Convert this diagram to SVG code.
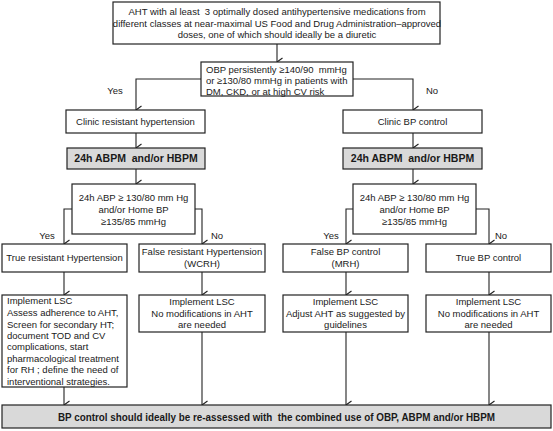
<svg xmlns="http://www.w3.org/2000/svg" width="553" height="431" viewBox="0 0 553 431">
<style>
.box{fill:#fff;stroke:#222;stroke-width:1.2}
.gbox{fill:#d9d9d9;stroke:#222;stroke-width:1.2}
text{font-family:"Liberation Sans",Arial,sans-serif;font-size:9.5px;fill:#1a1a1a;white-space:pre}
.c{text-anchor:middle}
.b{font-weight:bold;font-size:10.5px}
.ln{fill:none;stroke:#222;stroke-width:1.1}
</style>
<defs>
<marker id="ah" viewBox="0 0 10 10" refX="5" refY="9.5" markerWidth="10" markerHeight="10" markerUnits="userSpaceOnUse" orient="auto-start-reverse">
<polyline points="1,4 5,9.5 9,4" fill="none" stroke="#222" stroke-width="1.1"/>
</marker>
</defs>
<rect width="553" height="431" fill="#fff"/>
<g id="connectors">
<path class="ln" d="M277,44 V62" marker-end="url(#ah)"/>
<path class="ln" d="M201,79 H136 V110" marker-end="url(#ah)"/>
<path class="ln" d="M353,79 H413 V110" marker-end="url(#ah)"/>
<path class="ln" d="M136,133 V148" marker-end="url(#ah)"/>
<path class="ln" d="M413,133 V148" marker-end="url(#ah)"/>
<path class="ln" d="M136,169 V184" marker-end="url(#ah)"/>
<path class="ln" d="M413,169 V184" marker-end="url(#ah)"/>
<path class="ln" d="M72,209 H64 V244" marker-end="url(#ah)"/>
<path class="ln" d="M195,209 H202 V244" marker-end="url(#ah)"/>
<path class="ln" d="M353,209 H346 V244" marker-end="url(#ah)"/>
<path class="ln" d="M476,209 H489 V244" marker-end="url(#ah)"/>
<path class="ln" d="M64,272 V295" marker-end="url(#ah)"/>
<path class="ln" d="M202,272 V295" marker-end="url(#ah)"/>
<path class="ln" d="M346,272 V295" marker-end="url(#ah)"/>
<path class="ln" d="M489,272 V295" marker-end="url(#ah)"/>
<path class="ln" d="M64,387 V405" marker-end="url(#ah)"/>
<path class="ln" d="M202,332 V405" marker-end="url(#ah)"/>
<path class="ln" d="M346,332 V405" marker-end="url(#ah)"/>
<path class="ln" d="M489,332 V405" marker-end="url(#ah)"/>
<text x="115" y="94" class="c">Yes</text>
<text x="432" y="94" class="c">No</text>
<text x="47" y="239" class="c">Yes</text>
<text x="217" y="239" class="c">No</text>
<text x="331" y="239" class="c">Yes</text>
<text x="501" y="239" class="c">No</text>
</g>
<g id="n-start">
<rect class="box" x="113" y="2" width="327" height="42"/>
<text x="277" y="15" class="c">AHT with al least  3 optimally dosed antihypertensive medications from</text>
<text x="277" y="27" class="c">different classes at near-maximal US Food and Drug Administration–approved</text>
<text x="277" y="38" class="c">doses, one of which should ideally be a diuretic</text>
</g>
<g id="n-obp">
<rect class="box" x="201" y="62" width="152" height="34"/>
<text x="206" y="73">OBP persistently ≥140/90  mmHg</text>
<text x="206" y="84">or ≥130/80 mmHg in patients with</text>
<text x="206" y="95">DM, CKD, or at high CV risk</text>
</g>
<g id="n-clinic-rh">
<rect class="box" x="66" y="110" width="139" height="23"/>
<text x="135.5" y="125" class="c">Clinic resistant hypertension</text>
</g>
<g id="n-clinic-bp">
<rect class="box" x="343" y="110" width="139" height="23"/>
<text x="412.5" y="125" class="c">Clinic BP control</text>
</g>
<g id="n-abpm-l">
<rect class="gbox" x="67" y="148" width="138" height="21"/>
<text x="136" y="162" class="c b">24h ABPM  and/or HBPM</text>
</g>
<g id="n-abpm-r">
<rect class="gbox" x="343" y="148" width="139" height="21"/>
<text x="412.5" y="162" class="c b">24h ABPM  and/or HBPM</text>
</g>
<g id="n-cond-l">
<rect class="box" x="72" y="184" width="123" height="50"/>
<text x="133.5" y="201" class="c">24h ABP ≥ 130/80 mm Hg</text>
<text x="133.5" y="213" class="c">and/or Home BP</text>
<text x="133.5" y="225" class="c">≥135/85 mmHg</text>
</g>
<g id="n-cond-r">
<rect class="box" x="353" y="184" width="123" height="50"/>
<text x="414.5" y="201" class="c">24h ABP ≥ 130/80 mm Hg</text>
<text x="414.5" y="213" class="c">and/or Home BP</text>
<text x="414.5" y="225" class="c">≥135/85 mmHg</text>
</g>
<g id="n-true-rh">
<rect class="box" x="2" y="244" width="125" height="28"/>
<text x="64.5" y="261" class="c">True resistant Hypertension</text>
</g>
<g id="n-false-rh">
<rect class="box" x="139" y="244" width="126" height="28"/>
<text x="202" y="255" class="c">False resistant Hypertension</text>
<text x="202" y="267" class="c">(WCRH)</text>
</g>
<g id="n-false-bp">
<rect class="box" x="283" y="244" width="125" height="28"/>
<text x="345.5" y="255" class="c">False BP control</text>
<text x="345.5" y="267" class="c">(MRH)</text>
</g>
<g id="n-true-bp">
<rect class="box" x="426" y="244" width="125" height="28"/>
<text x="488.5" y="261" class="c">True BP control</text>
</g>
<g id="n-lsc-1">
<rect class="box" x="2" y="295" width="125" height="92"/>
<text x="7" y="304">Implement LSC</text>
<text x="7" y="316">Assess adherence to AHT,</text>
<text x="7" y="328">Screen for secondary HT;</text>
<text x="7" y="339">document TOD and CV</text>
<text x="7" y="350">complications, start</text>
<text x="7" y="362">pharmacological treatment</text>
<text x="7" y="373">for RH ; define the need of</text>
<text x="7" y="385">interventional strategies.</text>
</g>
<g id="n-lsc-2">
<rect class="box" x="139" y="295" width="126" height="37"/>
<text x="202" y="305" class="c">Implement LSC</text>
<text x="202" y="317" class="c">No modifications in AHT</text>
<text x="202" y="328" class="c">are needed</text>
</g>
<g id="n-lsc-3">
<rect class="box" x="283" y="295" width="125" height="37"/>
<text x="345.5" y="305" class="c">Implement LSC</text>
<text x="345.5" y="317" class="c">Adjust AHT as suggested by</text>
<text x="345.5" y="328" class="c">guidelines</text>
</g>
<g id="n-lsc-4">
<rect class="box" x="426" y="295" width="125" height="37"/>
<text x="488.5" y="305" class="c">Implement LSC</text>
<text x="488.5" y="317" class="c">No modifications in AHT</text>
<text x="488.5" y="328" class="c">are needed</text>
</g>
<g id="n-end">
<rect class="gbox" x="2" y="405" width="549" height="23"/>
<text x="58" y="420.5" class="b" style="font-size:11px" textLength="437" lengthAdjust="spacingAndGlyphs">BP control should ideally be re-assessed with  the combined use of OBP, ABPM and/or HBPM</text>
</g>
</svg>
